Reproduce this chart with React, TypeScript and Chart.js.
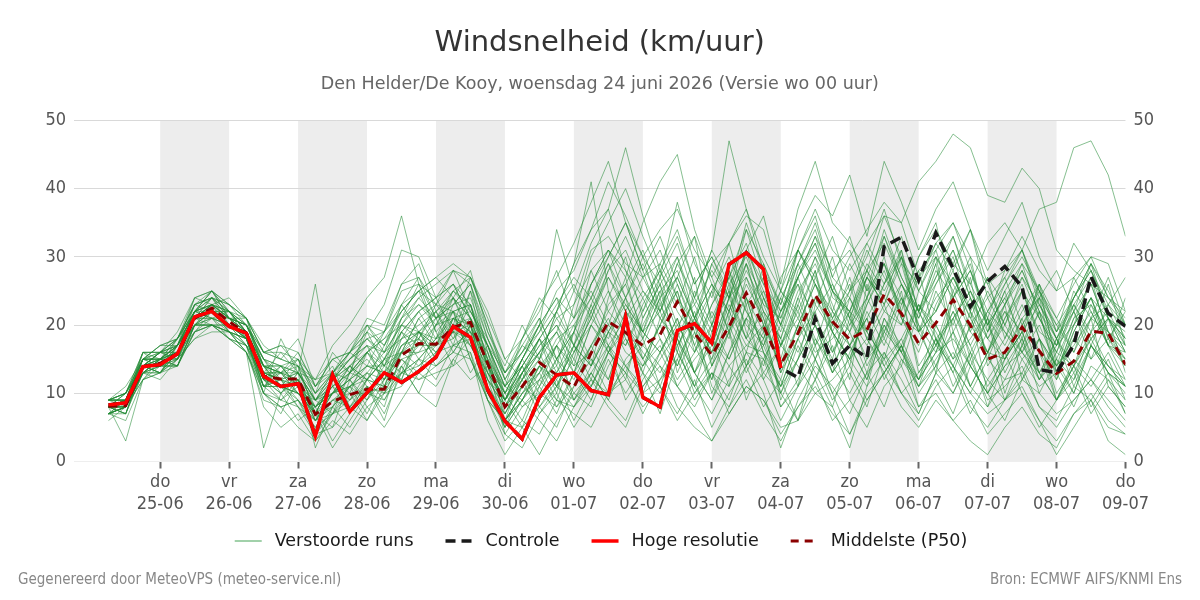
import React, { useEffect, useRef } from 'react';
import { Chart, registerables } from 'chart.js';

Chart.register(...registerables);

const titleText = 'Windsnelheid (km/uur)';
const subtitleText = 'Den Helder/De Kooy, woensdag 24 juni 2026 (Versie wo 00 uur)';
const footerLeftText = 'Gegenereerd door MeteoVPS (meteo-service.nl)';
const footerRightText = 'Bron: ECMWF AIFS/KNMI Ens';

// Forecast steps, in hours after woensdag 24-06 00:00
const firstStepHour = 6;
const stepHours = 6;
const stepCount = 60;
const forecastHours = Array.from({ length: stepCount }, (_, i) => firstStepHour + i * stepHours);

// Day ticks (midnight of each day)
const dayTickHours = [24, 48, 72, 96, 120, 144, 168, 192, 216, 240, 264, 288, 312, 336, 360];
const dayNames = ['do', 'vr', 'za', 'zo', 'ma', 'di', 'wo', 'do', 'vr', 'za', 'zo', 'ma', 'di', 'wo', 'do'];
const dayDates = ['25-06', '26-06', '27-06', '28-06', '29-06', '30-06', '01-07', '02-07', '03-07', '04-07', '05-07', '06-07', '07-07', '08-07', '09-07'];

// Alternate days get a grey band: [start hour, end hour]
const shadedDays = [[24, 48], [72, 96], [120, 144], [168, 192], [216, 240], [264, 288], [312, 336]];

const axisMinHour = -6;
const axisMaxHour = 360;
const speedMin = 0;
const speedMax = 50;
const speedStep = 10;

// High resolution run (6h .. 240h)
const hresValues = [
  8.3, 8.6, 13.9, 14.2, 15.8, 21.2, 22.0, 19.8, 18.8, 12.5,
  11.0, 11.4, 3.7, 12.7, 7.3, 10.1, 13.0, 11.6, 13.2, 15.3,
  19.8, 18.2, 10.5, 5.9, 3.3, 9.4, 12.7, 13.0, 10.4, 9.8,
  21.2, 9.4, 8.0, 19.2, 20.2, 17.4, 28.9, 30.6, 28.2, 13.7,
];

// Control run (6h .. 360h)
const controlValues = [
  8.3, 8.6, 13.9, 14.2, 15.8, 21.2, 22.0, 19.8, 18.8, 12.5,
  11.0, 11.4, 3.7, 12.7, 7.3, 10.1, 13.0, 11.6, 13.2, 15.3,
  19.8, 18.2, 10.5, 5.9, 3.3, 9.4, 12.7, 13.0, 10.4, 9.8,
  21.2, 9.4, 8.0, 19.2, 20.2, 17.4, 28.9, 30.6, 28.2, 13.7,
  12.3, 21.0, 14.4, 17.0, 15.2, 31.5, 32.9, 26.6, 33.5, 28.3,
  22.7, 26.4, 28.6, 25.6, 13.5, 13.0, 17.1, 27.1, 21.7, 19.8,
];

// Ensemble median (6h .. 360h)
const medianValues = [
  8.1, 8.2, 13.9, 14.4, 15.8, 21.0, 22.5, 20.5, 18.8, 12.5,
  12.1, 12.1, 6.9, 8.8, 9.8, 10.6, 10.6, 15.6, 17.3, 17.2,
  19.7, 20.4, 14.4, 8.0, 11.0, 14.5, 12.7, 10.9, 15.9, 20.5,
  18.9, 17.0, 18.6, 23.4, 18.8, 15.6, 19.8, 24.7, 19.8, 14.2,
  18.8, 24.4, 20.5, 17.9, 19.3, 24.5, 21.7, 17.3, 20.3, 23.7,
  20.0, 15.0, 16.0, 19.7, 16.2, 12.9, 14.7, 19.1, 18.8, 14.2,
];

// Perturbed ensemble members (6h .. 360h)
const perturbedRuns: number[][] = [
  [7,9,15,15,17,22,25,22,19,15,12,9,6,10,14,11,8,16,21,17,22,15,9,6,13,18,11,15,23,17,12,21,26,16,11,19,25,14,20,9,15,24,19,12,26,18,14,22,29,17,11,16,23,12,18,9,14,21,11,8],
  [8,7,13,15,14,20,21,20,18,10,7,12,4,8,5,9,13,12,18,22,17,25,14,10,6,12,17,9,14,20,27,18,24,13,19,10,16,23,12,17,21,28,16,22,14,19,26,20,13,24,15,21,10,17,24,13,20,27,18,22],
  [9,10,16,16,19,24,23,24,21,17,15,18,11,14,8,12,17,22,25,19,14,20,11,5,11,15,22,29,41,25,18,14,20,26,19,12,21,16,24,18,11,23,30,21,15,18,25,13,17,22,16,8,15,19,26,14,10,17,23,20],
  [6,8,12,13,15,18,19,19,16,9,8,5,3,7,10,6,11,14,10,16,19,13,17,9,14,8,12,6,11,17,9,13,7,15,20,11,8,14,19,10,6,12,17,9,13,8,15,11,18,13,7,12,16,10,5,9,14,8,12,7],
  [8,9,14,16,16,21,24,21,21,13,13,10,8,12,16,19,14,21,26,24,28,22,18,12,17,21,15,19,28,31,24,30,22,27,33,20,25,18,29,23,31,36,27,33,25,29,22,30,35,24,28,20,26,31,23,19,27,22,17,24],
  [7,8,14,13,16,20,22,21,18,12,14,11,7,5,12,9,15,13,19,16,20,17,12,8,12,7,10,5,9,16,19,13,21,25,16,22,18,27,20,14,23,17,25,19,24,30,21,16,23,28,19,25,20,16,22,13,19,24,17,14],
  [9,9,16,14,17,22,23,22,19,14,10,13,2,8,11,7,12,15,13,20,24,19,16,6,9,14,11,17,12,19,14,10,16,21,13,18,11,24,16,12,20,15,22,17,12,19,24,14,18,11,16,21,13,18,10,15,12,19,14,11],
  [8,10,14,16,18,21,21,22,20,16,15,14,10,16,13,20,17,23,27,21,24,18,14,11,18,22,28,21,30,35,40,33,27,38,29,24,32,37,30,25,34,39,36,42,33,44,38,31,37,41,34,28,33,38,30,25,32,28,23,27],
  [7,8,13,12,15,19,20,18,17,8,5,7,3,6,4,8,5,9,13,11,15,18,9,3,6,4,9,7,5,10,12,8,11,6,10,13,7,11,9,4,8,12,6,9,5,11,14,8,10,6,9,4,7,10,6,3,7,9,5,4],
  [8,8,15,14,17,21,24,20,19,14,12,15,9,7,13,16,19,26,29,22,18,23,13,9,15,20,34,25,32,37,28,22,29,24,17,23,28,19,14,22,27,20,15,24,19,26,31,22,17,25,29,20,24,18,26,21,16,23,19,15],
  [8,9,13,15,16,22,21,20,18,13,16,13,12,17,20,24,27,36,26,19,22,15,10,7,12,16,10,19,14,24,30,21,26,19,27,14,22,29,20,15,24,18,13,21,27,23,16,25,30,19,24,15,21,26,18,13,20,24,17,12],
  [9,11,15,17,18,23,25,21,20,16,17,14,11,15,13,19,23,31,30,24,19,25,18,12,8,10,15,19,26,30,35,28,21,18,13,20,27,32,24,17,22,28,19,15,23,29,21,17,25,20,27,14,18,23,16,12,19,24,18,15],
  [8,7,14,13,16,19,22,19,18,10,18,13,26,11,7,12,9,14,17,21,16,20,10,6,10,14,9,16,21,18,24,15,20,25,17,12,19,24,16,11,18,22,14,19,13,21,17,12,20,15,22,10,16,21,13,18,11,17,14,12],
  [7,9,13,14,14,19,20,19,16,2,10,6,8,3,7,11,6,14,10,8,15,12,14,4,2,7,11,8,13,9,15,18,11,7,12,5,10,14,8,12,6,15,10,4,9,13,17,8,12,7,14,10,6,12,16,9,13,7,11,8],
  [8,3,12,15,15,21,20,20,17,12,9,12,7,2,6,10,14,12,19,15,21,17,13,9,13,8,5,11,15,10,13,7,12,17,10,14,19,9,15,11,18,13,8,16,21,12,17,10,14,19,11,16,9,13,18,10,14,11,15,9],
  [9,8,16,15,18,22,25,21,20,15,11,14,7,12,10,16,13,20,18,23,26,21,17,13,18,23,27,32,38,44,35,28,33,26,20,29,24,31,22,18,27,33,25,21,28,24,31,19,26,30,22,27,18,25,21,16,23,19,26,17],
  [8,10,14,16,16,23,22,22,19,13,12,10,9,13,16,14,19,22,25,27,24,28,19,14,20,15,22,29,34,37,46,36,28,23,30,21,27,34,26,22,29,35,27,24,31,26,33,25,22,29,34,26,20,27,23,18,24,29,21,19],
  [7,8,14,13,17,20,23,19,18,11,14,11,6,10,14,12,15,16,21,23,20,27,22,15,12,18,22,17,26,31,27,35,41,45,34,27,21,29,24,19,28,32,25,22,27,33,26,21,28,24,30,19,23,28,22,17,25,21,27,20],
  [9,10,15,17,17,24,25,23,21,14,13,16,11,13,17,20,16,23,19,17,23,26,16,10,15,20,24,17,23,29,24,19,27,32,24,31,47,37,28,21,29,34,26,20,27,23,30,22,26,31,24,18,23,27,21,16,22,26,19,17],
  [8,9,13,15,17,21,23,22,18,14,11,12,7,12,14,16,12,19,22,18,24,21,14,9,14,18,22,26,21,28,31,25,22,29,33,26,22,31,36,26,37,44,35,32,28,36,30,25,31,35,28,22,26,30,25,20,24,29,24,20],
  [8,8,14,14,14,20,22,19,17,12,10,13,9,12,9,13,16,18,19,15,21,20,15,8,13,16,19,13,20,25,20,17,23,27,21,16,22,28,23,17,24,30,25,30,34,38,35,41,44,48,46,39,38,43,40,31,28,26,24,21],
  [9,9,15,16,17,21,23,21,20,15,14,13,10,13,16,18,15,21,23,20,25,22,17,10,15,11,17,21,25,20,17,23,28,22,18,25,30,24,19,27,31,26,21,25,32,27,23,30,34,29,26,32,35,31,37,38,46,47,42,33],
  [7,6,12,13,15,18,20,18,16,10,8,9,4,5,8,6,10,11,15,12,17,19,10,5,9,6,3,8,12,8,5,11,14,8,5,3,8,12,7,3,8,11,7,4,10,13,8,5,9,6,3,1,5,8,4,2,7,10,6,4],
  [8,10,14,14,17,21,22,21,19,11,13,10,8,11,9,12,11,16,16,17,18,21,12,9,5,11,15,10,8,14,18,13,10,16,11,7,12,15,10,2,9,14,11,7,13,16,10,6,11,14,8,5,9,11,6,1,5,9,3,1],
  [8,8,14,16,15,22,21,20,18,11,11,8,6,7,11,13,10,15,12,13,14,16,6,1,5,1,6,10,13,9,6,12,16,11,7,3,7,11,9,5,6,10,8,2,11,15,10,7,13,16,11,8,12,13,8,5,9,12,8,5],
  [8,9,15,14,18,22,22,22,19,12,11,9,6,10,13,15,12,17,19,21,22,23,14,7,12,15,11,17,22,16,13,20,25,17,22,14,19,26,21,13,18,24,20,27,19,15,23,28,18,21,14,19,25,17,22,12,18,15,21,13],
  [7,8,13,15,14,20,20,19,17,14,13,12,9,10,11,12,15,19,15,18,22,18,13,6,10,13,17,14,16,23,26,19,16,21,13,17,24,18,15,20,26,17,21,14,24,19,16,23,18,13,20,16,22,19,13,17,22,15,18,14],
  [9,9,14,16,17,22,24,23,20,15,13,14,7,12,15,17,11,18,22,24,26,23,15,8,13,17,20,14,22,27,22,18,24,30,21,26,19,31,25,17,23,30,22,19,27,24,20,28,31,23,17,22,27,20,25,15,21,26,19,16],
  [8,7,14,13,17,21,21,21,18,11,12,13,8,10,12,8,10,15,16,20,21,19,15,11,14,10,8,13,17,21,16,14,17,12,16,20,15,21,18,10,15,20,13,17,21,14,18,12,16,22,17,11,15,19,12,16,14,18,13,11],
  [9,10,15,17,18,23,24,23,21,16,16,15,12,15,16,21,20,26,27,23,28,27,21,15,18,24,21,23,31,33,29,27,29,34,26,30,25,35,28,23,31,27,33,25,30,37,29,26,32,28,34,24,27,31,24,28,22,29,25,20],
  [7,8,12,14,14,19,21,18,17,10,9,11,6,9,10,10,9,13,14,16,17,18,10,6,10,12,9,8,11,16,13,10,12,15,9,13,11,16,15,8,11,17,10,14,9,13,17,11,14,10,16,12,9,15,11,13,8,14,12,9],
  [8,9,15,15,15,21,23,22,19,14,14,11,9,13,12,16,18,20,24,21,23,26,19,13,16,21,15,20,24,29,22,19,25,28,21,17,24,27,22,18,25,29,23,17,21,26,30,19,24,27,22,16,20,25,18,14,21,23,17,16],
  [8,8,13,15,14,20,20,20,17,11,11,10,7,8,13,12,11,17,18,14,16,20,11,7,11,13,18,20,15,12,19,24,18,14,20,25,19,13,18,25,22,15,20,24,18,13,17,23,19,14,20,24,19,16,12,18,22,17,13,11],
  [9,9,16,16,18,22,25,22,21,16,17,16,11,15,16,20,19,25,26,21,25,27,20,12,16,19,25,28,34,41,36,30,34,37,31,27,32,36,34,25,31,37,31,28,32,36,35,27,32,35,30,26,28,33,28,25,27,30,29,22],
  [7,8,13,13,16,20,20,19,16,11,12,8,5,9,8,11,7,13,15,18,19,17,12,5,9,12,14,9,13,17,14,11,15,19,13,9,14,17,16,8,12,18,14,10,15,20,15,12,16,18,14,10,14,16,13,9,12,17,13,10],
  [8,9,14,16,15,21,23,21,19,13,13,15,10,12,15,17,14,19,22,24,26,21,16,9,14,18,13,19,24,19,17,22,27,20,16,23,27,22,18,24,29,23,19,25,28,22,20,27,30,25,19,16,21,25,19,17,20,24,21,16],
  [8,7,14,15,16,22,23,21,19,12,13,11,8,10,11,14,14,16,17,17,21,22,17,11,9,14,17,13,20,16,22,27,31,24,20,15,24,29,21,14,20,26,20,17,23,28,21,19,22,27,21,16,15,20,24,18,13,18,21,16],
  [9,10,15,15,18,23,24,22,20,14,11,10,7,12,15,18,16,20,19,22,24,21,14,9,13,16,21,17,14,19,24,29,23,18,24,31,26,20,17,22,26,21,16,20,24,29,24,19,22,27,22,18,15,21,24,20,16,21,23,18],
  [7,8,13,14,15,20,22,20,18,12,10,12,6,8,11,9,12,16,18,16,19,18,11,6,9,13,8,11,17,12,20,15,11,18,13,9,16,21,13,10,17,12,19,15,11,20,16,12,18,14,10,15,12,17,13,9,15,12,16,11],
  [8,9,14,15,17,22,23,21,20,14,14,13,9,11,13,16,18,22,25,23,22,20,14,10,15,20,14,23,28,22,26,31,24,27,21,29,32,23,27,20,31,26,22,29,24,33,27,22,30,26,21,27,23,29,25,19,24,28,22,20],
  [8,8,13,14,16,20,20,19,18,11,9,8,4,7,9,11,10,13,15,14,17,16,9,4,8,11,7,13,9,15,10,14,18,11,8,13,9,16,12,6,11,15,9,13,8,16,12,7,13,10,15,9,11,14,8,6,11,9,13,7],
  [9,9,15,16,17,22,24,22,20,15,14,15,10,13,16,19,17,21,24,26,28,26,18,13,17,15,19,25,22,28,33,27,22,29,24,19,26,30,23,21,27,31,25,22,28,32,26,21,27,33,25,20,24,28,22,18,23,27,21,18],
  [8,9,14,15,16,21,22,20,19,13,12,13,9,11,14,12,15,19,17,20,22,23,17,11,14,18,15,12,17,22,19,15,20,14,21,16,23,18,22,13,20,26,19,15,22,17,24,19,14,21,25,18,22,16,20,14,18,22,17,15],
  [7,8,14,14,15,20,21,19,18,12,11,10,7,10,12,14,13,16,19,18,21,19,12,8,11,9,13,17,14,19,23,19,16,20,23,18,15,21,25,20,16,22,26,21,17,22,26,22,17,21,25,20,15,19,23,18,14,19,22,17],
  [9,9,15,15,17,23,24,21,20,14,13,12,8,11,13,16,14,18,20,22,25,23,15,10,13,17,20,16,21,27,23,19,22,16,25,20,28,22,17,24,19,27,21,26,18,23,29,20,16,24,28,21,17,22,26,19,23,18,21,17],
  [8,8,14,14,16,21,22,20,18,13,12,11,7,9,11,13,12,16,14,17,19,20,13,9,12,16,19,15,11,16,20,16,13,18,11,15,20,14,17,11,15,20,13,17,12,21,16,11,15,19,14,10,14,18,12,15,10,17,14,11],
  [8,9,15,15,17,22,23,21,19,14,13,13,9,12,14,17,16,20,23,21,23,24,17,11,15,19,23,27,24,30,35,30,26,30,23,28,24,31,26,20,27,32,24,22,29,25,30,22,27,31,24,19,25,29,21,17,24,28,21,18],
  [7,7,13,13,14,19,20,18,16,10,8,9,5,7,8,10,11,13,12,14,16,15,9,6,5,8,11,9,12,10,14,17,14,11,15,18,14,10,13,17,14,10,12,15,18,14,10,13,17,14,10,7,9,12,10,7,9,12,9,6],
  [9,10,16,16,18,24,25,23,21,16,15,14,12,13,15,18,19,23,25,27,29,27,20,13,16,20,24,21,26,31,28,24,28,33,26,30,24,34,29,22,27,33,28,31,25,34,27,22,29,33,26,21,28,31,25,21,26,30,24,22],
  [8,9,14,15,16,21,23,20,19,13,12,11,8,10,12,14,13,17,19,17,20,21,14,8,11,14,12,16,20,17,21,25,21,17,21,26,22,17,20,25,21,16,18,22,19,15,18,23,20,15,18,22,19,15,18,14,17,21,19,14],
];

const FONT_MAIN = "'DejaVu Sans', sans-serif";
const FONT_NARROW = "'DejaVu Sans Condensed', 'DejaVu Sans', sans-serif";

const runColor = 'rgba(34, 139, 52, 0.55)';
const controlColor = '#1a1a1a';
const hresColor = '#ff0000';
const medianColor = '#8b0000';

const legendEntries = [
  { label: 'Verstoorde runs', color: 'rgba(60, 160, 80, 0.75)', width: 1.3, dash: [] as number[] },
  { label: 'Controle', color: controlColor, width: 3.5, dash: [10, 6] },
  { label: 'Hoge resolutie', color: hresColor, width: 3.5, dash: [] as number[] },
  { label: 'Middelste (P50)', color: medianColor, width: 3, dash: [8, 6] },
];

const toPoints = (values: number[]) => values.map((y, i) => ({ x: forecastHours[i], y }));

// Grey bands behind alternate days
const dayBandsPlugin = {
  id: 'dayBands',
  beforeDraw(chart: any) {
    const { ctx, chartArea, scales } = chart;
    ctx.save();
    ctx.fillStyle = '#ededed';
    shadedDays.forEach(([from, to]) => {
      const x0 = scales.x.getPixelForValue(from);
      const x1 = scales.x.getPixelForValue(to);
      ctx.fillRect(x0, chartArea.top, x1 - x0, chartArea.bottom - chartArea.top);
    });
    ctx.restore();
  },
};

// Legend row and footer texts
const legendFooterPlugin = {
  id: 'legendFooter',
  afterDraw(chart: any) {
    const { ctx, width } = chart;
    ctx.save();
    ctx.font = `17.5px ${FONT_MAIN}`;
    ctx.textBaseline = 'middle';
    ctx.textAlign = 'left';
    const sampleW = 27;
    const textGap = 13;
    const itemGap = 32;
    const widths = legendEntries.map((e) => sampleW + textGap + ctx.measureText(e.label).width);
    const total = widths.reduce((a, b) => a + b, 0) + itemGap * (legendEntries.length - 1);
    let x = 601 - total / 2;
    const y = 541;
    legendEntries.forEach((e, i) => {
      ctx.beginPath();
      ctx.strokeStyle = e.color;
      ctx.lineWidth = e.width;
      ctx.lineCap = 'butt';
      ctx.setLineDash(e.dash);
      ctx.moveTo(x, y);
      ctx.lineTo(x + sampleW, y);
      ctx.stroke();
      ctx.setLineDash([]);
      ctx.fillStyle = '#1a1a1a';
      ctx.fillText(e.label, x + sampleW + textGap, y);
      x += widths[i] + itemGap;
    });

    ctx.font = `15px ${FONT_NARROW}`;
    ctx.fillStyle = '#888888';
    ctx.textAlign = 'left';
    ctx.fillText(footerLeftText, 18, 580);
    ctx.textAlign = 'right';
    ctx.fillText(footerRightText, width - 18, 580);
    ctx.restore();
  },
};

export default function App() {
  const canvasRef = useRef<HTMLCanvasElement>(null);

  useEffect(() => {
    document.body.style.margin = '0';
    const canvas = canvasRef.current;
    if (!canvas) return;

    const runDatasets = perturbedRuns.map((run) => ({
      label: 'Verstoorde runs',
      data: toPoints(run),
      borderColor: runColor,
      backgroundColor: runColor,
      borderWidth: 1,
      pointRadius: 0,
      tension: 0,
      order: 4,
    }));

    const chart = new Chart(canvas, {
      type: 'line',
      data: {
        datasets: [
          ...runDatasets,
          {
            label: 'Middelste (P50)',
            data: toPoints(medianValues),
            borderColor: medianColor,
            backgroundColor: medianColor,
            borderWidth: 3,
            borderDash: [9, 6],
            pointRadius: 0,
            order: 3,
          },
          {
            label: 'Controle',
            data: toPoints(controlValues),
            borderColor: controlColor,
            backgroundColor: controlColor,
            borderWidth: 3.5,
            borderDash: [11, 6],
            pointRadius: 0,
            order: 2,
          },
          {
            label: 'Hoge resolutie',
            data: toPoints(hresValues),
            borderColor: hresColor,
            backgroundColor: hresColor,
            borderWidth: 3.5,
            pointRadius: 0,
            order: 1,
          },
        ] as any,
      },
      options: {
        responsive: false,
        animation: false,
        events: [],
        layout: { padding: { left: 37.4, right: 37.9, top: 0, bottom: 81.3 } },
        plugins: {
          legend: { display: false },
          tooltip: { enabled: false },
          title: {
            display: true,
            text: titleText,
            color: '#333333',
            font: { family: FONT_MAIN, size: 29, weight: 'normal' },
            padding: { top: 26.4, bottom: 0 },
          },
          subtitle: {
            display: true,
            text: subtitleText,
            color: '#666666',
            font: { family: FONT_MAIN, size: 17.5, weight: 'normal' },
            padding: { top: 13.2, bottom: 25 },
          },
        },
        scales: {
          x: {
            type: 'linear',
            min: axisMinHour,
            max: axisMaxHour,
            afterBuildTicks: (scale: any) => {
              scale.ticks = dayTickHours.map((value) => ({ value }));
            },
            ticks: {
              autoSkip: false,
              maxRotation: 0,
              padding: 3.5,
              color: '#555555',
              font: { family: FONT_NARROW, size: 18, lineHeight: 1.2 },
              callback: (_value: any, index: number) => [dayNames[index], dayDates[index]],
            },
            grid: {
              drawOnChartArea: false,
              drawTicks: true,
              tickLength: 7,
              tickWidth: 2,
              tickColor: '#666666',
            },
            border: { display: false },
          },
          y: {
            position: 'left',
            min: speedMin,
            max: speedMax,
            ticks: {
              stepSize: speedStep,
              padding: 8,
              color: '#555555',
              font: { family: FONT_NARROW, size: 18 },
            },
            grid: {
              drawTicks: false,
              color: (c: any) => (c.tick && c.tick.value === 0 ? '#eeeeee' : '#d9d9d9'),
              lineWidth: 1,
            },
            border: { display: false },
          },
          yRight: {
            position: 'right',
            min: speedMin,
            max: speedMax,
            ticks: {
              stepSize: speedStep,
              padding: 8,
              color: '#555555',
              font: { family: FONT_NARROW, size: 18 },
            },
            grid: { display: false, drawTicks: false },
            border: { display: false },
          },
        },
      } as any,
      plugins: [dayBandsPlugin, legendFooterPlugin],
    });

    return () => chart.destroy();
  }, []);

  return (
    <div style={{ width: 1200, height: 600 }}>
      <canvas ref={canvasRef} width={1200} height={600} style={{ display: 'block' }} />
    </div>
  );
}
